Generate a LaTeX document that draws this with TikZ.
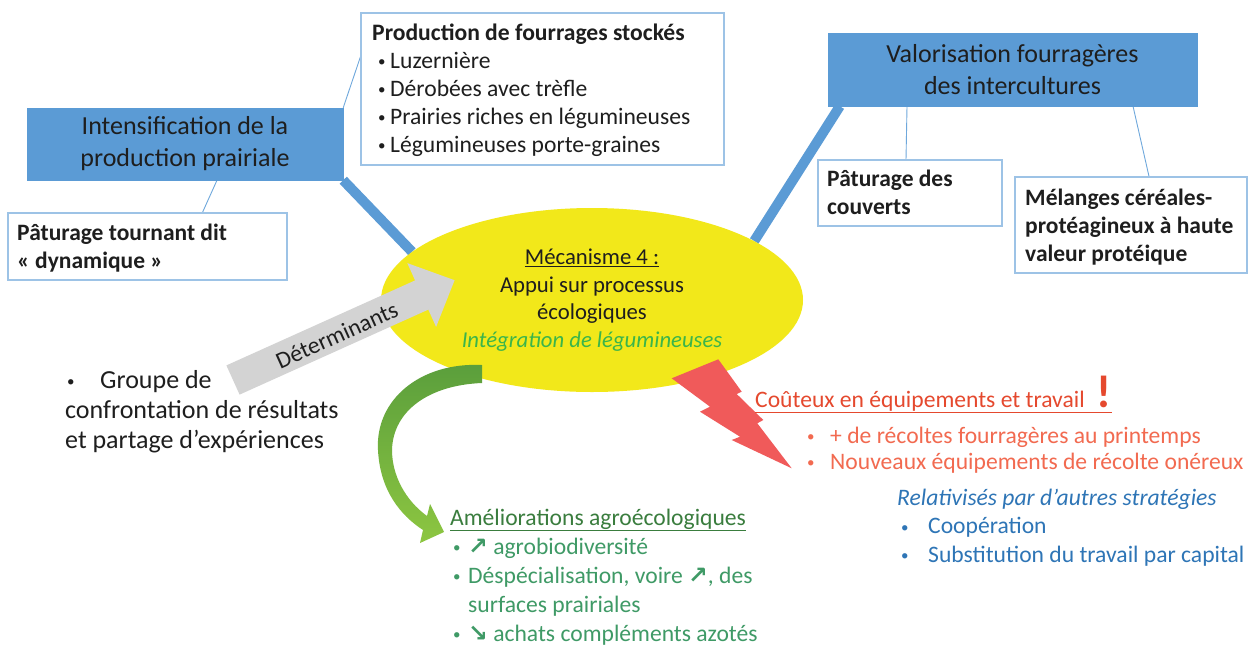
\documentclass[tikz,border=0pt]{standalone}
\usepackage{fontspec}
\setmainfont{Carlito}
\newfontfamily\symfont{DejaVu Sans}
\usetikzlibrary{shapes.geometric,calc}
\pgfdeclarelayer{bg}
\pgfsetlayers{bg,main}
\definecolor{bluefill}{HTML}{5B9BD5}
\definecolor{boxline}{HTML}{9DC3E6}
\definecolor{thinline}{HTML}{6FA8DC}
\definecolor{ellyellow}{HTML}{F2E81A}
\definecolor{arrowgray}{HTML}{D3D3D3}
\definecolor{boltred}{HTML}{F05A5A}
\definecolor{redtitle}{HTML}{E5492E}
\definecolor{redtext}{HTML}{F26A50}
\definecolor{bluetext}{HTML}{2E75B6}
\definecolor{greenital}{HTML}{3BB54A}
\definecolor{greentitle}{HTML}{3A7D3E}
\definecolor{greentext}{HTML}{3F9A66}
\definecolor{greendark}{HTML}{5A9E3C}
\definecolor{greenlight}{HTML}{8DC641}
\definecolor{txtdark}{HTML}{1E1E1E}
\newcommand{\st}{\rule{0pt}{20pt}}
\newcommand{\bl}[1]{\makebox[#1][l]{\raisebox{1.5pt}{\fontsize{15}{15}\selectfont•}}}
\begin{document}
\begin{tikzpicture}[x=1pt,y=-1pt,
  bluebox/.style={draw=bluefill, fill=bluefill, inner sep=0pt, align=center, text=txtdark, font=\fontsize{26}{32}\selectfont},
  wbox/.style={draw=boxline, line width=1.2pt, fill=white, inner sep=0pt},
  txt/.style={inner sep=0pt, anchor=north west, align=left},
  conn/.style={draw=thinline, line width=0.9pt},
  thickline/.style={draw=bluefill, line width=10pt},
  fnorm/.style={font=\fontsize{23.6}{28}\selectfont},
]
\useasboundingbox (0,0) rectangle (1257,646);

% boxes
\node[bluebox, minimum width=316pt, minimum height=72pt] (intens) at (185,144) {Intensification de la\\production prairiale};
\node[bluebox, minimum width=369pt, minimum height=73pt] (valor) at (1012.5,69.5) {Valorisation fourragères\\des intercultures};
\node[wbox, minimum width=363pt, minimum height=152pt] (prod) at (542.5,89) {};
\node[wbox, minimum width=279pt, minimum height=67pt] (pat1) at (147.5,246.5) {};
\node[wbox, minimum width=184pt, minimum height=66pt] (pat2) at (910,193) {};
\node[wbox, minimum width=232pt, minimum height=96pt] (mel) at (1131,225) {};

% central ellipse
\node[ellipse, fill=ellyellow, minimum width=422pt, minimum height=184pt, inner sep=0pt, align=center,
      font=\fontsize{22.7}{27.5}\selectfont, text=txtdark] (ell) at (592,300)
  {\underline{Mécanisme 4 :}\\Appui sur processus\\écologiques\\\textcolor{greenital}{\itshape Intégration de légumineuses}};

\begin{pgfonlayer}{bg}
  \fill[white] (0,0) rectangle (1257,646);
  \draw[conn] (intens.north east) -- (prod.170);
  \draw[conn] ($(intens.south)+(32,0)$) -- ($(pat1.north)+(55,0)$);
  \draw[conn] ($(valor.south)+(-105.5,0)$) -- ($(pat2.north)+(-4,0)$);
  \draw[conn] ($(valor.south)+(120.5,0)$) -- ($(mel.north)+(18,0)$);
  \draw[thickline] (intens.south east) -- (ell.165);
  \draw[thickline] ($(valor.south west)+(12,0)$) -- (ell.20);
\end{pgfonlayer}

% texts in white boxes
\node[txt, fnorm, text=txtdark] (prodtxt) at (372,20)
  {\st\textbf{Production de fourrages stockés}\\
   \hspace*{6pt}\bl{12pt}Luzernière\\
   \hspace*{6pt}\bl{12pt}Dérobées avec trèfle\\
   \hspace*{6pt}\bl{12pt}Prairies riches en légumineuses\\
   \hspace*{6pt}\bl{12pt}Légumineuses porte-graines};
\node[txt, font=\fontsize{23.5}{28}\selectfont\bfseries, text=txtdark] (pat1txt) at (17,220)
  {\st Pâturage tournant dit\\« dynamique »};
\node[txt, font=\fontsize{23.5}{28}\selectfont\bfseries, text=txtdark] (pat2txt) at (827,166)
  {\st Pâturage des\\couverts};
\node[txt, font=\fontsize{23.5}{28}\selectfont\bfseries, text=txtdark] (meltxt) at (1025,185)
  {\st Mélanges céréales-\\protéagineux à haute\\valeur protéique};

% gray arrow
\fill[arrowgray] (226.4,365.4) -- (415.1,280.4) -- (407.3,263.1) -- (454.6,280.2)
  -- (436.1,326.9) -- (428.3,309.6) -- (239.6,394.6) -- cycle;
\node[rotate=24.25, inner sep=0pt, fnorm, text=txtdark] (det) at (336.8,335.4) {Déterminants};

% lightning
\fill[boltred] (671.7,378.3) -- (718.3,359.3) -- (741.7,391.7) -- (736.7,394) -- (763.3,420)
  -- (757.3,423.3) -- (791.7,468.3) -- (731.7,440) -- (740,436.7) -- (700,411.7) -- (710,406.7) -- cycle;

% green curved arrow
\shade[top color=greendark, bottom color=greenlight]
  (482,365) .. controls (420,362) and (375,400) .. (378,450)
  .. controls (380,490) and (400,515) .. (423,530)
  -- (420,543) -- (444,532) -- (430,504) -- (427,516)
  .. controls (405,500) and (392,475) .. (392,450)
  .. controls (393,410) and (430,385) .. (482,383) -- cycle;

% left group text
\node[txt, font=\fontsize{26}{30}\selectfont, text=txtdark] (grp) at (65,368)
  {\st\hspace*{2pt}\bl{33pt}Groupe de\\confrontation de résultats\\et partage d’expériences};

% red texts
\node[inner sep=0pt, anchor=base west, fnorm, text=redtitle] (cout) at (755,407)
  {\underline{Coûteux en équipements et travail\hspace{12pt}{\fontsize{46}{46}\selectfont\bfseries !}}};
\node[txt, font=\fontsize{23.6}{26}\selectfont, text=redtext] (coutl) at (807,423)
  {\st\bl{23pt}+ de récoltes fourragères au printemps\\
   \bl{23pt}Nouveaux équipements de récolte onéreux};

% blue texts
\node[txt, font=\fontsize{23.6}{28.5}\selectfont, text=bluetext] (rel) at (897,485)
  {\st\textit{Relativisés par d’autres stratégies}\\
   \hspace*{4pt}\bl{27pt}Coopération\\
   \hspace*{4pt}\bl{27pt}Substitution du travail par capital};

% green texts
\node[txt, font=\fontsize{23.6}{29}\selectfont, text=greentext] (amel) at (450,505)
  {\st\textcolor{greentitle}{\underline{Améliorations agroécologiques}}\\
   \hspace*{3pt}\bl{15pt}{\symfont\bfseries ↗} agrobiodiversité\\
   \hspace*{3pt}\bl{15pt}Déspécialisation, voire {\symfont\bfseries ↗}, des\\
   \hspace*{18pt}surfaces prairiales\\
   \hspace*{3pt}\bl{15pt}{\symfont\bfseries ↘} achats compléments azotés};
\end{tikzpicture}
\end{document}
